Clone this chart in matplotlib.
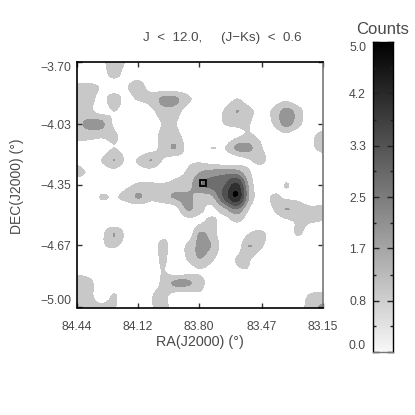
import numpy as np
import matplotlib
matplotlib.use("Agg")
import matplotlib.pyplot as plt
from matplotlib.colors import LinearSegmentedColormap

plt.rcParams['font.family'] = ['Liberation Sans', 'DejaVu Sans']
TXT = '#4a4a4a'

ra_ticks = [84.44, 84.12, 83.80, 83.47, 83.15]
dec_ticks = [-3.70, -4.03, -4.35, -4.67, -5.00]
cbar_ticks = [0.0, 0.83, 1.67, 2.5, 3.33, 4.17, 5.0]
cbar_labels = ['0.0', '0.8', '1.7', '2.5', '3.3', '4.2', '5.0']
levels = [0.8, 1.7, 2.5, 3.3, 4.2, 5.06, 9]
shades = ['#c8c8c8', '#969696', '#6e6e6e', '#505050', '#303030', '#000000']
source_ra = [83.779]
source_dec = [-4.341]

# counts, rows run north to south, columns run east to west
counts = np.array([
 [0,0,.5,1.3,.7,0,0,0,0,0,0,0,0,0,0,0,0,0,0,0,0],
 [0,0,.3,1.1,.4,.4,0,0,0,0,0,0,0,0,0,0,0,0,0,0,0],
 [1.0,1.0,.7,.2,.7,1.1,.4,0,0,0,0,0,0,0,0,0,0,0,0,0,0],
 [1.2,1.1,.5,1.2,.5,.9,1.1,1.9,1.9,1.0,.4,0,0,.8,.1,0,.2,.5,0,0,0],
 [1.3,1.0,.4,.8,.3,0,.5,1.3,1.2,.3,0,0,.9,1.72,1.1,.3,1.0,2.0,1.2,0,0],
 [1.5,1.9,1.9,.6,0,0,.2,.85,.85,.1,0,0,.85,1.0,.85,0,.9,2.0,1.1,0,0],
 [1.3,1.2,1.0,1.0,.2,0,.2,1.1,1.1,.3,0,0,0,.6,.9,.5,0,.5,0,.5,1.2],
 [.2,0,0,.8,.2,0,.2,1.2,1.72,.4,.3,.82,.75,1.9,1.9,.85,.1,0,0,.5,1.2],
 [.5,0,.8,1.72,.6,.9,1.72,.7,.3,.6,.6,.3,.1,.3,.7,1.0,.2,0,0,0,0],
 [1.1,.6,0,.3,0,.4,.3,0,.5,.9,1.7,2.0,2.2,2.1,.9,.2,0,.3,0,0,0],
 [0,0,0,0,.5,.9,.9,.9,1.1,1.3,2.4,2.8,3.2,4.4,1.4,0,.1,.85,.3,0,0],
 [0,0,.9,.7,1.1,1.8,1.1,1.4,1.8,1.9,1.3,1.5,3.5,5.0,1.6,.2,.95,.6,.5,0,0],
 [0,0,0,0,0,0,0,0,.3,1.8,1.0,.6,1.4,2.4,.7,0,.8,1.72,1.3,1.0,1.1],
 [0,0,0,0,0,0,0,0,0,.3,.6,1.0,.3,.85,.3,0,0,.5,.9,.85,.75],
 [0,0,.5,1.72,.5,0,0,.5,.5,.1,1.8,1.2,0,0,.8,1.0,.2,.2,.9,.2,0],
 [0,0,.6,.9,.3,0,.1,1.1,.1,1.0,1.9,1.6,.1,.2,1.72,.9,0,0,0,0,0],
 [0,0,0,0,0,0,0,1.0,0,.9,1.7,.95,.1,.85,.9,.1,0,0,0,0,0],
 [.5,.4,0,0,0,0,0,.85,0,.3,.7,.3,0,.6,.7,0,0,0,0,0,0],
 [1.2,1.0,.3,.4,0,0,.3,1.0,1.9,1.9,1.1,.3,0,0,0,0,0,0,0,0,0],
 [1.0,1.0,.3,.85,.3,0,.7,1.0,.4,.2,.6,0,0,0,0,0,0,0,.3,.9,1.0],
 [1.0,1.0,1.0,.9,.1,0,.7,1.0,.4,0,0,0,0,0,0,0,0,0,.4,1.2,1.9],
])

def refine(a, k=5):
    """Catmull-Rom resampling along the first axis: renders the grid as smooth contours."""
    n = a.shape[0]
    t = np.linspace(0, n - 1, (n - 1) * k + 1)
    i = np.clip(t.astype(int), 0, n - 2)
    u = (t - i)[:, None]
    p = a[np.clip(i - 1, 0, n - 1)], a[i], a[i + 1], a[np.clip(i + 2, 0, n - 1)]
    return 0.5 * (2 * p[1] + (p[2] - p[0]) * u + (2 * p[0] - 5 * p[1] + 4 * p[2] - p[3]) * u**2
                  + (3 * p[1] - p[0] - 3 * p[2] + p[3]) * u**3)

smooth = refine(refine(counts).T).T

W = 415
def box(l, t, r, b):
    return [l / W, 1 - b / W, (r - l) / W, (b - t) / W]

fig = plt.figure(figsize=(4.15, 4.15), dpi=100, facecolor='white')
ax = fig.add_axes(box(77, 62, 323, 307.5))
ra = np.linspace(ra_ticks[0], ra_ticks[-1], smooth.shape[1])
dec = np.linspace(dec_ticks[0], dec_ticks[-1], smooth.shape[0])
ax.contourf(ra, dec, smooth, levels=levels, colors=shades, antialiased=False)
ax.plot(source_ra, source_dec, 's', ms=4.2, mfc='none', mec='black', mew=1.3)
ax.set_xlim(ra_ticks[0], ra_ticks[-1])
ax.set_ylim(dec_ticks[-1], dec_ticks[0])
ax.set_xticks(ra_ticks, [f'{v:.2f}' for v in ra_ticks])
ax.set_yticks(dec_ticks, [f'{v:.2f}'.replace('-', '\u2212') for v in dec_ticks])
ax.tick_params(direction='in', top=True, right=True, length=3.8, width=1, color='#333333',
               labelsize=8.8, labelcolor=TXT, pad=4)
ax.tick_params(axis='x', pad=10)
tl = ax.get_yticklabels()
tl[0].set_va('top')
tl[-1].set_va('bottom')
for s in ax.spines.values():
    s.set_linewidth(1.2)
    s.set_color('black')
ax.spines['right'].set_color('#777777')
fig.text(200 / W, 1 - 342 / W, 'RA(J2000) (\u00b0)', ha='center', va='center', fontsize=10.4, color=TXT)
fig.text(17 / W, 1 - 186 / W, 'DEC(J2000) (\u00b0)', rotation=90, ha='center', va='center', fontsize=10, color=TXT)
fig.text(143 / W, 1 - 38 / W, 'J  <  12.0,     (J\u2212Ks)  <  0.6', ha='left', va='center', fontsize=9.6, color=TXT)

cax = fig.add_axes(box(373, 42, 393, 352))
cmap = LinearSegmentedColormap.from_list('g', ['#f8f8f8', '#000000'])
cax.imshow(np.linspace(cbar_ticks[-1], cbar_ticks[0], 256)[:, None], cmap=cmap, aspect='auto',
           extent=[0, 1, cbar_ticks[0], cbar_ticks[-1]], vmin=0, vmax=5)
cax.set_xticks([])
cax.set_yticks(cbar_ticks, cbar_labels)
cax.set_yticks(np.array(cbar_ticks[:-1]) + 0.415, minor=True)
cax.tick_params(axis='y', which='major', direction='in', left=True, right=True, length=4, width=1,
                color='#222222', labelsize=8.8, labelcolor=TXT, pad=5)
cax.tick_params(axis='y', which='minor', direction='in', left=True, right=True, length=2, width=1, color='#222222')
cl = cax.get_yticklabels()
cl[0].set_va('bottom')
cl[-1].set_va('top')
for s in cax.spines.values():
    s.set_linewidth(1)
    s.set_color('black')
cax.spines['bottom'].set_color('#777777')
fig.text(383 / W, 1 - 29 / W, 'Counts', ha='center', va='center', fontsize=12, color=TXT)

fig.savefig('out.png', dpi=100)
